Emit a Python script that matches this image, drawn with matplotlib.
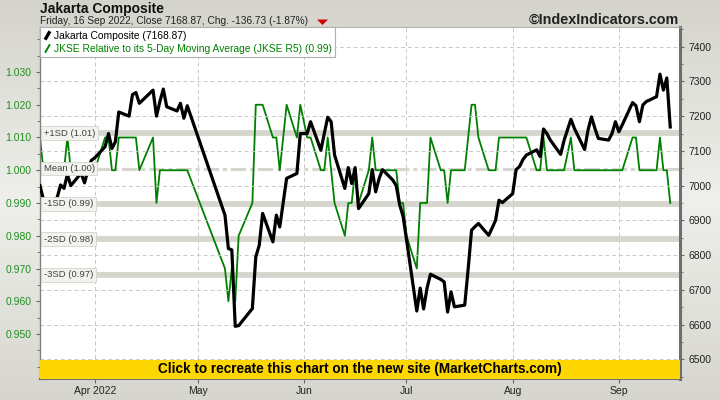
import numpy as np
import pandas as pd
import matplotlib
matplotlib.use("Agg")
import matplotlib.pyplot as plt
import matplotlib.dates as mdates
import matplotlib.transforms as mtransforms
from matplotlib.lines import Line2D
from matplotlib.patches import Rectangle, Polygon
from matplotlib.colors import LinearSegmentedColormap
from matplotlib.ticker import MultipleLocator, FormatStrFormatter

plt.rcParams['font.family'] = ['Liberation Sans', 'DejaVu Sans']

# IDX trading days, 16 Mar - 16 Sep 2022
idx_holidays = ['2022-04-15', '2022-04-29', '2022-05-02', '2022-05-03', '2022-05-04',
                '2022-05-05', '2022-05-06', '2022-05-16', '2022-05-26', '2022-06-01',
                '2022-08-17']
dates = pd.bdate_range('2022-03-16', '2022-09-16', freq='C', holidays=idx_holidays)

# Jakarta Composite close (right axis)
jkse_close = [
    7000, 6960, 6950, 6965, 7002, 6992, 7032, 7000, 7036, 7008, 7045, 7073,
    7080, 7112, 7150, 7107, 7126, 7212, 7200, 7262, 7268, 7237, 7275, 7200, 7242, 7278, 7227,
    7215, 7237, 7194, 7230,
    6915, 6819, 6815, 6595, 6597, 6646, 6795, 6828, 6920, 6838, 6915, 6881, 7021, 7035, 7150,
    7150, 7184, 7102, 7150, 7197, 7184, 7088, 6992, 7052, 7006, 7052, 6934, 6977, 7046, 6982,
    7020, 7046, 7016, 7000, 6945, 6912,
    6845, 6639, 6705, 6645, 6705, 6745, 6730, 6723, 6636, 6694, 6651, 6656, 6760, 6872, 6882,
    6891, 6857, 6878, 6900, 6958, 6951,
    6977, 7046, 7055, 7075, 7088, 7103, 7084, 7163, 7150, 7131, 7090, 7130, 7191, 7165, 7104,
    7160, 7198, 7165, 7136, 7131, 7150, 7184,
    7155, 7175, 7239, 7230, 7184, 7232, 7242, 7256, 7321, 7275, 7310, 7168.87,
]

# JKSE relative to its 5-day moving average (left axis)
jkse_r5 = [
    1.01, 1.00, 1.00, 1.00, 1.00, 1.00, 1.01, 1.00, 1.00, 1.00, 1.00, 1.00,
    1.00, 1.01, 1.01, 1.00, 1.00, 1.01, 1.01, 1.01, 1.01, 1.00, 1.01, 0.99, 1.00, 1.00, 1.00,
    1.00, 1.00, 1.00, 1.00,
    0.97, 0.96, 0.97, 0.96, 0.98, 0.99, 1.02, 1.02, 1.02, 1.01, 1.01, 1.00, 1.02, 1.01, 1.02,
    1.01, 1.01, 1.00, 1.00, 1.01, 1.00, 0.99, 0.98, 0.99, 0.99, 1.00, 0.99, 1.00, 1.01, 1.00,
    1.00, 1.00, 1.00, 1.00, 0.99, 0.99,
    0.98, 0.97, 0.99, 0.99, 0.99, 1.01, 1.00, 1.00, 0.99, 1.00, 1.00, 1.00, 1.01, 1.02, 1.02,
    1.01, 1.00, 1.00, 1.00, 1.01, 1.01,
    1.01, 1.01, 1.01, 1.01, 1.01, 1.00, 1.00, 1.01, 1.00, 1.00, 1.00, 1.00, 1.01, 1.00, 1.00,
    1.00, 1.00, 1.00, 1.00, 1.00, 1.00, 1.00,
    1.00, 1.00, 1.01, 1.01, 1.00, 1.00, 1.00, 1.00, 1.01, 1.00, 1.00, 0.99,
]

r5_mean = 1.0005
r5_sd = 0.0108
sd_steps = [1, 0, -1, -2, -3]
sd_names = ['+1SD', 'Mean', '-1SD', '-2SD', '-3SD']

month_ticks = ['2022-04-01', '2022-05-01', '2022-06-01', '2022-07-01', '2022-08-01', '2022-09-01']
month_labels = ['Apr 2022', 'May', 'Jun', 'Jul', 'Aug', 'Sep']

green = '#008000'
band_c = '#d6d6ce'

fig = plt.figure(figsize=(7.2, 4.0), dpi=100)

# grey gradient background
bg = fig.add_axes([0, 0, 1, 1])
bg_cmap = LinearSegmentedColormap.from_list('bg', ['#d4d4cc', '#efefeb', '#d6d6ce'])
bg.imshow(np.linspace(0, 1, 256).reshape(-1, 1), aspect='auto', cmap=bg_cmap, extent=(0, 1, 0, 1))
bg.axis('off')

ax = fig.add_axes([40 / 720, 21 / 400, 640 / 720, 352 / 400])
ax.set_facecolor('white')
ax2 = ax.twinx()

x0 = mdates.date2num(pd.Timestamp('2022-03-16'))
ax.set_xlim(x0, x0 + 186.85)
ax.set_ylim(0.93626, 1.04374)
ax2.set_ylim(6443.3, 7456.7)

# grid
ax.set_xticks(mdates.date2num(pd.to_datetime(month_ticks)))
ax.set_xticklabels(month_labels)
ax.grid(axis='x', color='#c8c8c8', linestyle=(0, (4, 3)), lw=0.7)
ax.set_axisbelow(True)
ax2.yaxis.set_major_locator(MultipleLocator(100))
ax2.yaxis.set_minor_locator(MultipleLocator(50))
ax2.grid(axis='y', color='#c8c8c8', linestyle=(0, (4, 3)), lw=0.7)
ax2.set_axisbelow(True)

# SD bands
for k in sd_steps:
    lvl = r5_mean + k * r5_sd
    if k == 0:
        ax.axhline(lvl, color=band_c, lw=2.2, linestyle=(0, (5, 1.3, 1.3, 1.3)), zorder=1.5)
    else:
        ax.axhline(lvl, color=band_c, lw=4.2, zorder=1.5)

ax.plot(dates, jkse_r5, color=green, lw=1.3, zorder=3)
ax2.plot(dates, jkse_close, color='black', lw=2.3, zorder=3)

# band labels
tr = mtransforms.blended_transform_factory(ax2.transAxes, ax.transData)
for k, name in zip(sd_steps, sd_names):
    lvl = r5_mean + k * r5_sd
    ax2.text(0.006, lvl, f'{name} ({lvl:.2f})', transform=tr, ha='left', va='center',
             fontsize=6.8, color='#404040', zorder=6,
             bbox=dict(boxstyle='square,pad=0.25', facecolor='#f2f2ee', edgecolor='#d4d4cc', lw=0.6))

# axes styling
ax.set_yticks([0.95, 0.96, 0.97, 0.98, 0.99, 1.00, 1.01, 1.02, 1.03])
ax.yaxis.set_minor_locator(MultipleLocator(0.005))
ax.yaxis.set_major_formatter(FormatStrFormatter('%.3f'))
ax.tick_params(axis='y', which='major', direction='out', length=3, color='#666666',
               labelcolor='#1f8f1f', labelsize=7.5, pad=3)
ax.tick_params(axis='y', which='minor', direction='out', length=2, color='#666666')
ax.tick_params(axis='x', direction='out', length=3, color='#666666', labelcolor='#222222',
               labelsize=7.5, pad=2)
ax2.tick_params(axis='y', which='major', direction='out', length=3, color='#666666',
                labelcolor='#222222', labelsize=7.5, pad=3)
ax2.tick_params(axis='y', which='minor', direction='out', length=2, color='#666666')
for s in ax.spines.values():
    s.set_visible(False)
ax2.spines['right'].set_color('#6e6e6e')
ax2.spines['right'].set_linewidth(2.2)
ax2.spines['left'].set_color('#808080')
ax2.spines['left'].set_linewidth(1.0)
ax2.spines['bottom'].set_color('#707070')
ax2.spines['bottom'].set_linewidth(1.5)
ax2.spines['top'].set_color('#b0b0b0')
ax2.spines['top'].set_linewidth(0.8)

# legend
handles = [
    Line2D([], [], color='black', marker=(2, 0, -30), linestyle='None', markersize=7, mew=2.4),
    Line2D([], [], color=green, marker=(2, 0, -30), linestyle='None', markersize=7, mew=1.4),
]
labels = ['Jakarta Composite (7168.87)',
          'JKSE Relative to its 5-Day Moving Average (JKSE R5) (0.99)']
leg = ax2.legend(handles, labels, loc='upper left', bbox_to_anchor=(0, 1), borderaxespad=0,
                 frameon=True, fancybox=False, edgecolor='#b0b0b0', facecolor='white',
                 framealpha=1, fontsize=7.4, handlelength=0.7, handletextpad=0.3,
                 borderpad=0.35, labelspacing=0.3)
leg.get_frame().set_linewidth(0.8)
leg.set_zorder(7)
leg.get_texts()[1].set_color(green)

# yellow banner
ax2.add_patch(Rectangle((0, 0), 1, 19 / 352, transform=ax2.transAxes, facecolor='#ffd700',
                        edgecolor='none', zorder=8))
ax2.text(0.5, 9.5 / 352, 'Click to recreate this chart on the new site (MarketCharts.com)',
         transform=ax2.transAxes, ha='center', va='center', fontsize=9.8, fontweight='bold',
         color='black', zorder=9)

# header
fig.text(40 / 720, 1 - 8.5 / 400, 'Jakarta Composite', ha='left', va='center',
         fontsize=10, fontweight='bold', color='#111111')
fig.text(40 / 720, 1 - 20.5 / 400, 'Friday, 16 Sep 2022, Close 7168.87, Chg. -136.73 (-1.87%)',
         ha='left', va='center', fontsize=7.3, color='#222222')
fig.add_artist(Polygon([(317 / 720, 1 - 19.5 / 400), (328 / 720, 1 - 19.5 / 400),
                        (322.5 / 720, 1 - 25 / 400)], closed=True, transform=fig.transFigure,
                       facecolor='#d00000', edgecolor='none'))
fig.text(679 / 720, 1 - 20 / 400, '\u00a9IndexIndicators.com', ha='right', va='center',
         fontsize=10.4, fontweight='bold', color='#222222')

fig.savefig('out.png', dpi=100)
